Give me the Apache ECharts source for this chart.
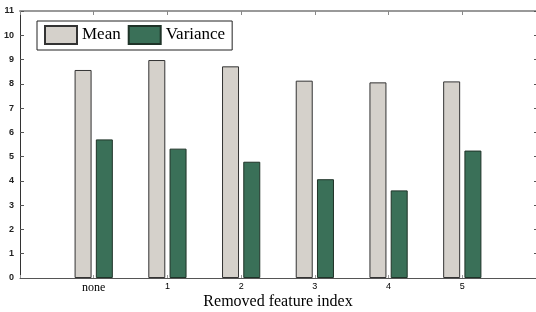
<!DOCTYPE html>
<html>
<head>
<meta charset="utf-8">
<script src="https://cdn.jsdelivr.net/npm/echarts@6/dist/echarts.min.js"></script>
<style>
  html, body { margin: 0; padding: 0; background: #fff; }
  #chart { width: 536px; height: 312px; }
</style>
</head>
<body>
<div id="chart"></div>
<script>
// padded with empty slots at both ends so ticks land like the original
const categories = ['', 'none', '1', '2', '3', '4', '5', '']
const meanValues = ['-', 8.57, 8.98, 8.72, 8.13, 8.06, 8.10, '-']
const varianceValues = ['-', 5.71, 5.33, 4.79, 4.07, 3.61, 5.25, '-']
const yTicks = { min: 0, max: 11, interval: 1 }

const chart = echarts.init(document.getElementById('chart'))

const option = {
  animation: false,
  backgroundColor: '#fff',
  grid: {
    left: 20,
    right: 0,
    top: 11,
    bottom: 34,
    containLabel: false,
    outerBoundsMode: 'none'
  },
  legend: {
    left: 37,
    top: 21,
    orient: 'horizontal',
    icon: 'rect',
    borderColor: '#222',
    borderWidth: 1,
    padding: [4, 7, 5, 7],
    itemWidth: 32,
    itemHeight: 18,
    itemGap: 7,
    textStyle: {
      fontFamily: 'Liberation Serif',
      fontSize: 17,
      color: '#000'
    },
    data: ['Mean', 'Variance']
  },
  xAxis: [
    {
      type: 'category',
      data: categories,
      boundaryGap: false,
      position: 'bottom',
      name: 'Removed feature index',
      nameLocation: 'middle',
      nameGap: 16,
      nameMoveOverlap: false,
      nameTextStyle: {
        fontFamily: 'Liberation Serif',
        fontSize: 16,
        color: '#000'
      },
      axisLine: { onZero: false, lineStyle: { color: '#555', width: 1 } },
      axisTick: { inside: true, length: 3, lineStyle: { color: '#999' } },
      axisLabel: {
        margin: 4,
        formatter: v => v === 'none' ? '{s|none}' : '{n|' + v + '}',
        rich: {
          s: { fontFamily: 'Liberation Serif', fontSize: 12, color: '#000' },
          n: { fontFamily: 'Liberation Sans', fontSize: 9, color: '#000' }
        }
      },
      splitLine: { show: false }
    },
    {
      type: 'category',
      data: categories,
      boundaryGap: false,
      position: 'top',
      axisLine: { show: true, onZero: false, lineStyle: { color: '#999', width: 2 } },
      axisTick: { show: true, inside: true, length: 4, lineStyle: { color: '#888' } },
      axisLabel: { show: false },
      splitLine: { show: false }
    }
  ],
  yAxis: [
    {
      type: 'value',
      min: yTicks.min,
      max: yTicks.max,
      interval: yTicks.interval,
      position: 'left',
      axisLine: { show: true, onZero: false, lineStyle: { color: '#333', width: 1 } },
      axisTick: { show: true, inside: true, length: 4, lineStyle: { color: '#555' } },
      axisLabel: {
        margin: 6,
        fontFamily: 'Liberation Sans',
        fontWeight: 'bold',
        fontSize: 9,
        color: '#222'
      },
      splitLine: { show: false }
    },
    {
      type: 'value',
      min: yTicks.min,
      max: yTicks.max,
      interval: yTicks.interval,
      position: 'right',
      axisLine: { show: false },
      axisTick: { show: true, inside: true, length: 2, lineStyle: { color: '#555' } },
      axisLabel: { show: false },
      splitLine: { show: false }
    }
  ],
  series: [
    {
      name: 'Mean',
      type: 'bar',
      data: meanValues,
      barWidth: 17,
      barGap: '25%',
      itemStyle: {
        color: '#d5d1cb',
        borderColor: '#333',
        borderWidth: 1
      }
    },
    {
      name: 'Variance',
      type: 'bar',
      data: varianceValues,
      barWidth: 17,
      barGap: '25%',
      itemStyle: {
        color: '#3a7058',
        borderColor: '#1f3328',
        borderWidth: 1
      }
    }
  ]
}

chart.setOption(option)
</script>
</body>
</html>
